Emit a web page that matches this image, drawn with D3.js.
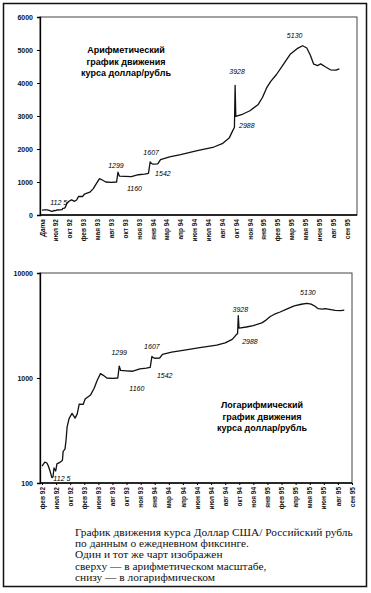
<!DOCTYPE html>
<html>
<head>
<meta charset="utf-8">
<script src="https://cdn.jsdelivr.net/npm/d3@7"></script>
<style>
  body { margin: 0; background: #fff; }
  svg { display: block; }
  .tick text { font-family: "Liberation Sans", Arial, sans-serif; font-weight: bold; fill: #111; }
</style>
</head>
<body>
<script>
// Курс доллар/рубль: положение по оси категорий (в делениях) и значение
var pos = [0, 0.2, 0.35, 0.45, 0.57, 0.7, 0.78, 0.85, 0.97, 1.06,
           1.3, 1.45, 1.5, 1.63, 1.7, 1.78, 1.92, 2.13, 2.35, 2.5,
           2.64, 2.92, 3.06, 3.45, 3.7, 3.92, 4.15, 4.35, 4.6, 5.0,
           5.38, 5.48, 5.58, 6.0, 6.45, 6.95, 7.4, 7.68, 7.8, 7.9,
           8.0, 8.35, 8.55, 9.2, 10.0, 11.2, 12.4, 13.0, 13.5, 13.75,
           13.88, 13.93, 13.98, 14.5, 15.0, 15.6, 15.9, 16.2, 16.5, 16.9,
           17.4, 17.9, 18.4, 18.8, 19.1, 19.35, 19.6, 19.9, 20.1, 20.4,
           20.8, 21.2, 21.45];
var rate = [145, 158, 155, 145, 130, 112.5, 114, 139, 130, 152,
            158, 165, 200, 210, 250, 340, 410, 460, 415, 455,
            565, 560, 630, 690, 800, 950, 1100, 1060, 1000, 990,
            1000, 1299, 1180, 1170, 1160, 1220, 1240, 1260, 1607, 1560,
            1542, 1550, 1680, 1760, 1830, 1950, 2060, 2160, 2330, 2550,
            2650, 3928, 2988, 3060, 3160, 3350, 3560, 3850, 4050, 4250,
            4560, 4870, 5040, 5130, 5060, 4850, 4570, 4530, 4580, 4500,
            4400, 4390, 4430];

var labelsTop = ["Дата", "июл 92", "окт 92", "фев 93", "мая 93", "авг 93", "окт 93", "ноя 93",
                 "янв 94", "мар 94", "апр 94", "июн 94", "июл 94", "авг 94", "окт 94", "ноя 94",
                 "янв 95", "фев 95", "мар 95", "мая 95", "июн 95", "авг 95", "сен 95"];
var labelsBottom = ["фев 92", "июл 92", "окт 92", "фев 93", "июн 93", "авг 93", "окт 93", "ноя 93",
                    "янв 94", "мар 94", "апр 94", "июн 94", "июл 94", "авг 94", "окт 94", "ноя 94",
                    "янв 95", "фев 95", "апр 95", "мая 95", "июн 95", "авг 95", "сен 95"];
var ticksTop = [0, 1000, 2000, 3000, 4000, 5000, 6000];
var ticksBottom = [100, 1000, 10000];

// подписи экстремумов
var noteText = ["112 5", "1299", "1160", "1607", "1542", "3928", "2988", "5130"];
var notePos = [0.7, 5.48, 6.45, 7.8, 8.0, 13.93, 13.98, 18.8];
var noteValue = [112.5, 1299, 1160, 1607, 1542, 3928, 2988, 5130];

var titleTop = ["Арифметический", "график движения", "курса доллар/рубль"];
var titleBottom = ["Логарифмический", "график движения", "курса доллар/рубль"];
var caption = ["График движения курса Доллар США/ Российский рубль",
               "по данным о ежедневном фиксинге.",
               "Один и тот же чарт изображен",
               "сверху — в арифметическом масштабе,",
               "снизу — в логарифмическом"];

var width = 371, height = 593;
var svg = d3.select("body").append("svg")
    .attr("width", width).attr("height", height);

// общая рамка
svg.append("rect")
    .attr("x", 3.5).attr("y", 3.5)
    .attr("width", 363).attr("height", 583)
    .attr("fill", "none").attr("stroke", "#111").attr("stroke-width", 1.5);

function drawChart(opt)
{
    var x = d3.scaleLinear().domain([0, 22]).range([opt.x0, opt.x1]);
    var y = opt.yScale;
    var g = svg.append("g");

    // рамка области построения
    g.append("rect")
        .attr("x", opt.left).attr("y", y.range()[1])
        .attr("width", opt.right - opt.left).attr("height", y.range()[0] - y.range()[1])
        .attr("fill", "none").attr("stroke", "#444").attr("stroke-width", 1);

    var yAxis = d3.axisLeft(y).tickValues(opt.ticks).tickSize(3).tickPadding(4)
        .tickFormat(d3.format("d"));
    g.append("g").attr("transform", "translate(" + opt.left + ",0)").call(yAxis)
        .call(function(a) {
            a.select(".domain").attr("stroke-width", 1.3);
            a.selectAll("text").style("font-size", "7px");
        });

    var xAxis = d3.axisBottom(x).tickValues(d3.range(opt.labels.length))
        .tickFormat(function(d) { return opt.labels[d]; })
        .tickSize(opt.xTick).tickSizeOuter(0);
    var xa = g.append("g").attr("transform", "translate(0," + y.range()[0] + ")").call(xAxis);
    xa.select(".domain").attr("d", "M" + opt.left + ",0H" + opt.right).attr("stroke-width", 1.3);
    xa.selectAll("text")
        .attr("transform", "rotate(-90)")
        .attr("x", -4).attr("y", 0).attr("dy", "0.32em")
        .style("text-anchor", "end")
        .style("font-size", "6.5px")
        .style("font-style", function(d) { return opt.labels[d] == "Дата" ? "italic" : null; });

    var data = pos.map(function(p, i) { return [p, rate[i]]; });
    var line = d3.line().x(function(d) { return x(d[0]); }).y(function(d) { return y(d[1]); });
    g.append("path").datum(data)
        .attr("d", line)
        .attr("fill", "none").attr("stroke", "#111").attr("stroke-width", 1.3)
        .attr("stroke-linejoin", "round");

    noteText.forEach(function(t, i) {
        g.append("text")
            .attr("x", x(notePos[i]) + opt.noteOff[i][0])
            .attr("y", y(noteValue[i]) + opt.noteOff[i][1])
            .attr("text-anchor", "middle")
            .style("font-family", "Liberation Sans, Arial, sans-serif")
            .style("font-style", "italic")
            .style("font-size", "7px")
            .text(t);
    });

    var tt = g.append("text")
        .style("font-family", "Liberation Sans, Arial, sans-serif")
        .style("font-weight", "bold").style("font-size", "9px")
        .attr("text-anchor", "middle");
    opt.title.forEach(function(s, i) {
        tt.append("tspan").attr("x", opt.titleX).attr("y", opt.titleY + i * 11.5).text(s);
    });
}

drawChart({
    left: 40, right: 357, x0: 42, x1: 347, xTick: 0,
    yScale: d3.scaleLinear().domain([0, 6000]).range([215, 17]),
    ticks: ticksTop, labels: labelsTop, title: titleTop, titleX: 126, titleY: 53,
    noteOff: [[7, -6], [-2, -4], [3, 14], [1, -7], [10, 12], [2, -11], [11, 12], [-8, -8]]
});

drawChart({
    left: 40, right: 352, x0: 42, x1: 352, xTick: 2,
    yScale: d3.scaleLog().domain([100, 10000]).range([483, 273]),
    ticks: ticksBottom, labels: labelsBottom, title: titleBottom, titleX: 262, titleY: 408,
    noteOff: [[10, 3], [0, -11], [4, 20], [0, -7], [10, 20], [2, -4], [11, 16], [1, -8]]
});

// подпись под графиками
var cap = svg.append("text")
    .style("font-family", "Liberation Serif, Times New Roman, serif")
    .style("font-size", "11.4px").attr("fill", "#111");
caption.forEach(function(s, i) {
    cap.append("tspan").attr("x", 75).attr("y", 536 + i * 11.2).text(s);
});
</script>
</body>
</html>
